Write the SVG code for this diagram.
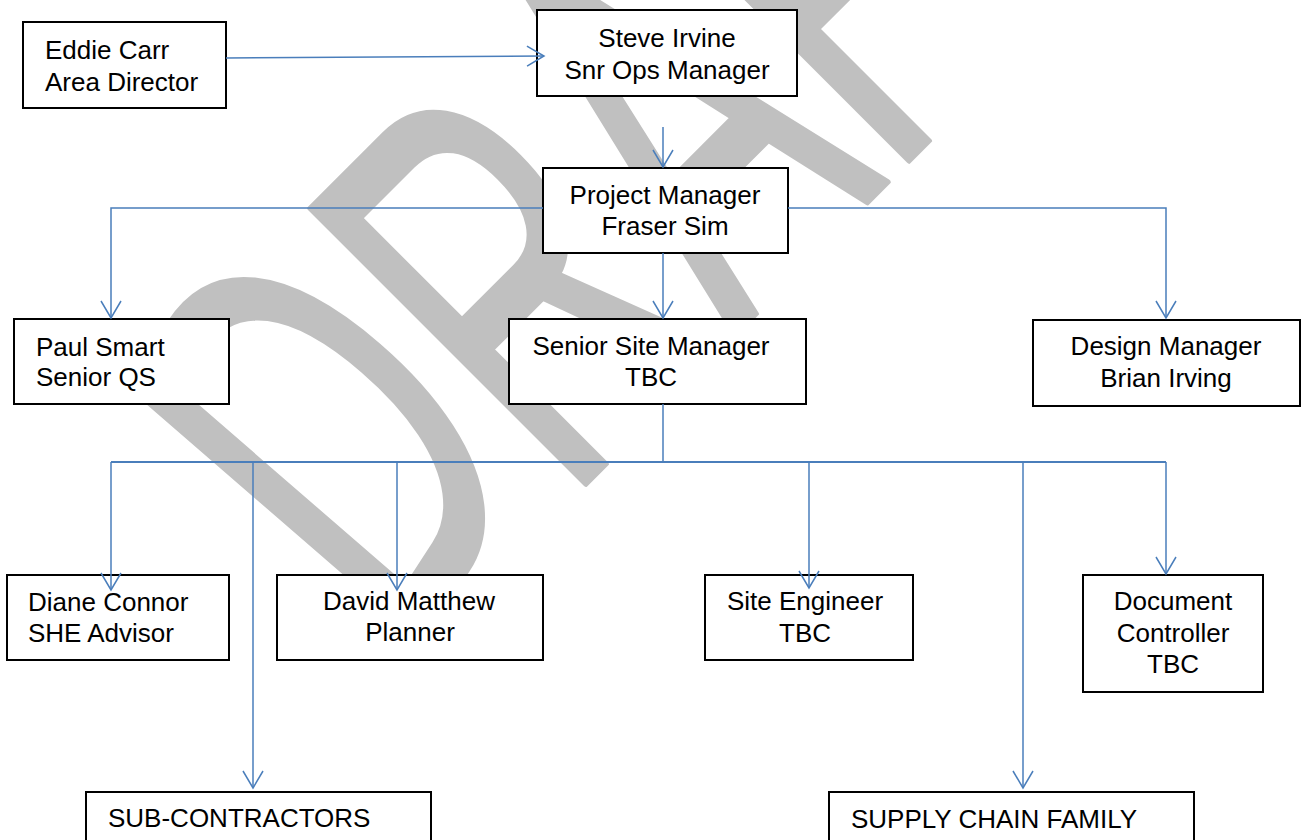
<svg xmlns="http://www.w3.org/2000/svg" width="1302" height="840" viewBox="0 0 1302 840">
  <style>
    .box { fill: #ffffff; stroke: #000000; stroke-width: 2; }
    .lbl { font-family: "Liberation Sans", Arial, sans-serif; font-size: 26px; fill: #000000; }
    .mid { text-anchor: middle; }
    .link { fill: none; stroke: #4a7ebb; stroke-width: 1.5; }
    .bus { stroke-width: 2; }
    .wm { font-family: "Liberation Sans", Arial, sans-serif; font-size: 329px; font-kerning: none; fill: #c0c0c0; stroke: #c0c0c0; stroke-width: 3; stroke-linejoin: round; }
  </style>
  <defs>
    <marker id="arrow" markerUnits="userSpaceOnUse" markerWidth="20" markerHeight="24" refX="0" refY="0" orient="auto" overflow="visible">
      <path d="M-17,-10 L0,0 L-17,10" fill="none" stroke="#4a7ebb" stroke-width="1.5"/>
    </marker>
  </defs>

  <rect width="1302" height="840" fill="#ffffff"/>

  <!-- background watermark -->
  <g id="watermark">
    <text class="wm" transform="translate(398,672) rotate(-45) scale(1,1.723)" dx="12 -12" rotate="-7 0 0 0 0">DRAFT</text>
  </g>

  <!-- org chart boxes -->
  <g id="eddie">
    <rect class="box" x="23" y="22" width="203" height="86"/>
    <text class="lbl" x="45" y="59">Eddie Carr</text>
    <text class="lbl" x="45" y="91">Area Director</text>
  </g>
  <g id="steve">
    <rect class="box" x="537" y="10" width="260" height="86"/>
    <text class="lbl mid" x="667" y="47">Steve Irvine</text>
    <text class="lbl mid" x="667" y="79">Snr Ops Manager</text>
  </g>
  <g id="project-manager">
    <rect class="box" x="543" y="168" width="245" height="85"/>
    <text class="lbl mid" x="665" y="204">Project Manager</text>
    <text class="lbl mid" x="665" y="235">Fraser Sim</text>
  </g>
  <g id="paul">
    <rect class="box" x="14" y="319" width="215" height="85"/>
    <text class="lbl" x="36" y="356">Paul Smart</text>
    <text class="lbl" x="36" y="386">Senior QS</text>
  </g>
  <g id="site-manager">
    <rect class="box" x="509" y="319" width="297" height="85"/>
    <text class="lbl mid" x="651" y="355">Senior Site Manager</text>
    <text class="lbl mid" x="651" y="386">TBC</text>
  </g>
  <g id="design-manager">
    <rect class="box" x="1033" y="320" width="267" height="86"/>
    <text class="lbl mid" x="1166" y="355">Design Manager</text>
    <text class="lbl mid" x="1166" y="387">Brian Irving</text>
  </g>
  <g id="diane">
    <rect class="box" x="7" y="575" width="222" height="85"/>
    <text class="lbl" x="28" y="611">Diane Connor</text>
    <text class="lbl" x="28" y="642">SHE Advisor</text>
  </g>
  <g id="david">
    <rect class="box" x="277" y="575" width="266" height="85"/>
    <text class="lbl mid" x="409" y="610">David Matthew</text>
    <text class="lbl mid" x="410" y="641">Planner</text>
  </g>
  <g id="site-engineer">
    <rect class="box" x="705" y="575" width="208" height="85"/>
    <text class="lbl mid" x="805" y="610">Site Engineer</text>
    <text class="lbl mid" x="805" y="642">TBC</text>
  </g>
  <g id="document-controller">
    <rect class="box" x="1083" y="575" width="180" height="117"/>
    <text class="lbl mid" x="1173" y="610">Document</text>
    <text class="lbl mid" x="1173" y="642">Controller</text>
    <text class="lbl mid" x="1173" y="673">TBC</text>
  </g>
  <g id="sub-contractors">
    <rect class="box" x="86" y="792" width="345" height="70"/>
    <text class="lbl" x="108" y="827">SUB-CONTRACTORS</text>
  </g>
  <g id="supply-chain">
    <rect class="box" x="829" y="792" width="365" height="70"/>
    <text class="lbl" x="851" y="828">SUPPLY CHAIN FAMILY</text>
  </g>

  <!-- reporting lines -->
  <g id="connectors">
    <path class="link" d="M226,58 L544,56" marker-end="url(#arrow)"/>
    <path class="link" d="M663,127 L663,167" marker-end="url(#arrow)"/>
    <path class="link" d="M543,208 L111,208 L111,318" marker-end="url(#arrow)"/>
    <path class="link" d="M788,208 L1166,208 L1166,318" marker-end="url(#arrow)"/>
    <path class="link" d="M663,253 L663,318" marker-end="url(#arrow)"/>
    <path class="link" d="M663,404 L663,462"/>
    <path class="link bus" d="M111,462 L1166,462"/>
    <path class="link" d="M111,462 L111,590" marker-end="url(#arrow)"/>
    <path class="link" d="M253,462 L253,788" marker-end="url(#arrow)"/>
    <path class="link" d="M397,462 L397,590" marker-end="url(#arrow)"/>
    <path class="link" d="M809,462 L809,588" marker-end="url(#arrow)"/>
    <path class="link" d="M1023,462 L1023,788" marker-end="url(#arrow)"/>
    <path class="link" d="M1166,462 L1166,574" marker-end="url(#arrow)"/>
  </g>
</svg>
